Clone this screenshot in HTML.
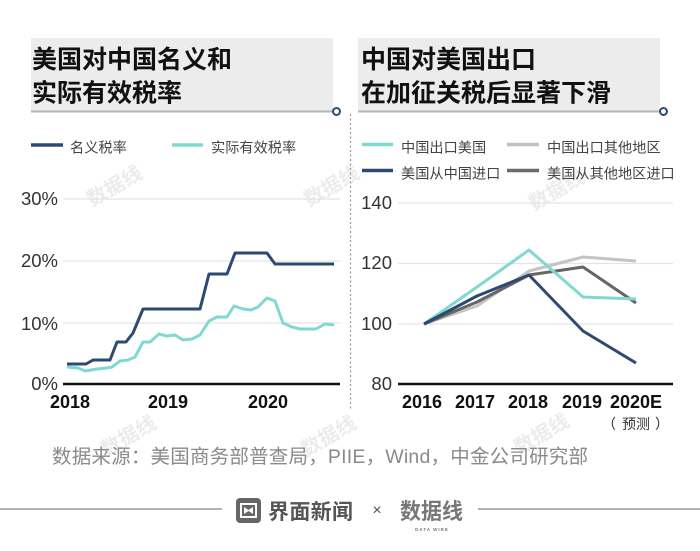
<!DOCTYPE html>
<html><head><meta charset="utf-8"><style>
html,body{margin:0;padding:0;background:#fff;}
svg{display:block;}
.cjk{font-family:"Liberation Sans","Noto Sans CJK SC",sans-serif;}
</style></head><body>
<svg width="700" height="551" viewBox="0 0 700 551" xmlns="http://www.w3.org/2000/svg" class="cjk">
<rect width="700" height="551" fill="#fff"/>
<!-- watermarks -->
<g fill="#ececec" font-family="Liberation Sans, Noto Sans CJK SC, sans-serif" font-size="20" font-weight="bold" text-anchor="middle">
<text transform="translate(118,192) rotate(-30)">数据线</text>
<text transform="translate(335,192) rotate(-30)">数据线</text>
<text transform="translate(560,196) rotate(-30)">数据线</text>
<text transform="translate(132,442) rotate(-30)">数据线</text>
<text transform="translate(332,442) rotate(-30)">数据线</text>
<text transform="translate(545,440) rotate(-30)">数据线</text>
</g>
<!-- title boxes -->
<rect x="31" y="38" width="302" height="73" fill="#ececec"/>
<line x1="31" y1="111.5" x2="333" y2="111.5" stroke="#b3b8bf" stroke-width="2"/>
<circle cx="336.5" cy="111.5" r="3.5" fill="#fff" stroke="#2d4a72" stroke-width="2"/>
<rect x="358" y="38" width="302" height="73" fill="#ececec"/>
<line x1="358" y1="111.5" x2="660" y2="111.5" stroke="#b3b8bf" stroke-width="2"/>
<circle cx="663.5" cy="111.5" r="3.5" fill="#fff" stroke="#2d4a72" stroke-width="2"/>
<g font-size="25" font-weight="bold" fill="#111">
<text x="32" y="68">美国对中国名义和</text>
<text x="32" y="101.5">实际有效税率</text>
<text x="361" y="68">中国对美国出口</text>
<text x="361" y="101.5">在加征关税后显著下滑</text>
</g>
<!-- separator -->
<line x1="350.5" y1="114" x2="350.5" y2="410" stroke="#999" stroke-width="1.2" stroke-dasharray="2,2.5"/>
<!-- legends -->
<g stroke-width="3.5" stroke-linecap="butt">
<line x1="31" y1="145" x2="63" y2="145" stroke="#2d4a72"/>
<line x1="172" y1="145" x2="203" y2="145" stroke="#80d9d1"/>
<line x1="362" y1="144.5" x2="393" y2="144.5" stroke="#80d9d1"/>
<line x1="507" y1="144.5" x2="539" y2="144.5" stroke="#c2c2c2"/>
<line x1="362" y1="170.5" x2="393" y2="170.5" stroke="#2d4a72"/>
<line x1="507" y1="170.5" x2="539" y2="170.5" stroke="#6b6b6b"/>
</g>
<g font-size="14.2" fill="#444">
<text x="70" y="152.5">名义税率</text>
<text x="211" y="152.5">实际有效税率</text>
<text x="401" y="152.5">中国出口美国</text>
<text x="547" y="152.5">中国出口其他地区</text>
<text x="401" y="178.5">美国从中国进口</text>
<text x="547" y="178.5">美国从其他地区进口</text>
</g>
<!-- grid -->
<g stroke="#e4e4e4" stroke-width="1.2">
<line x1="63" y1="199" x2="340" y2="199"/>
<line x1="63" y1="261" x2="340" y2="261"/>
<line x1="63" y1="323" x2="340" y2="323"/>
<line x1="398" y1="203" x2="673" y2="203"/>
<line x1="398" y1="263.5" x2="673" y2="263.5"/>
<line x1="398" y1="324" x2="673" y2="324"/>
</g>
<g font-family="Liberation Sans, sans-serif" font-size="18.5" fill="#333" text-anchor="end">
<text x="58" y="205">30%</text>
<text x="58" y="267">20%</text>
<text x="58" y="330">10%</text>
<text x="58" y="390">0%</text>
<text x="392" y="209">140</text>
<text x="392" y="269">120</text>
<text x="392" y="330">100</text>
<text x="392" y="390">80</text>
</g>
<!-- left series -->
<polyline fill="none" stroke="#80d9d1" stroke-width="3" stroke-linejoin="round" points="67,367 78,368 85,371 97,369 107,368 112,367 120,361 128,360 135,357 143,342 150,342 159,334 167,336 175,335 183,340 192,339 200,335 209,321 217,317 227,317 234,306 243,309 251,310 258,307 267,298 275,301 283,323 292,327 300,329 316,329 325,324 334,325"/>
<polyline fill="none" stroke="#2d4a72" stroke-width="3" stroke-linejoin="round" points="67,364 86,364 93,360 110,360 117,342 126,342 133,333 143,309 200,309 209,274 227,274 235,253 267,253 275,264 334,264"/>
<line x1="63" y1="384" x2="340" y2="384" stroke="#111" stroke-width="2.5"/>
<!-- right series -->
<g fill="none" stroke-width="3" stroke-linejoin="round">
<polyline stroke="#c4c4c4" points="424,324 477,306 529,271 583,257 636,261"/>
<polyline stroke="#666" points="424,324 477,302 529,275 583,267 636,303"/>
<polyline stroke="#80d9d1" points="424,324 477,287 529,250 583,297 636,299"/>
<polyline stroke="#2d4a72" points="424,324 477,296 529,275 583,331 636,363"/>
</g>
<line x1="398" y1="384" x2="673" y2="384" stroke="#111" stroke-width="2.5"/>
<!-- x labels -->
<g font-family="Liberation Sans, sans-serif" font-size="18" font-weight="bold" fill="#111" text-anchor="middle">
<text x="70" y="408">2018</text>
<text x="168" y="408">2019</text>
<text x="268" y="408">2020</text>
<text x="422" y="408">2016</text>
<text x="475" y="408">2017</text>
<text x="528" y="408">2018</text>
<text x="582" y="408">2019</text>
<text x="636" y="408">2020E</text>
</g>
<g font-size="14" fill="#333">
<text x="602" y="429">（</text>
<text x="622" y="429">预测</text>
<text x="655" y="429">）</text>
</g>
<!-- source -->
<text x="52" y="463" font-size="19.5" fill="#8a8a8a" textLength="536" lengthAdjust="spacing">数据来源：美国商务部普查局，PIIE，Wind，中金公司研究部</text>
<!-- footer -->
<line x1="0" y1="509" x2="222" y2="509" stroke="#9a9a9a" stroke-width="1.5"/>
<line x1="478" y1="509" x2="700" y2="509" stroke="#9a9a9a" stroke-width="1.5"/>
<rect x="236" y="498" width="25" height="25" rx="4" fill="#666"/>
<rect x="241" y="504" width="15" height="13" fill="none" stroke="#fff" stroke-width="2"/>
<path d="M244,507 L248.5,510 L253,507 L253,514 L248.5,511 L244,514 Z" fill="#fff"/>
<text x="268" y="519" font-size="21" font-weight="bold" fill="#555" textLength="85" lengthAdjust="spacing">界面新闻</text>
<text x="377" y="515" font-family="Liberation Sans, sans-serif" font-size="16" fill="#555" text-anchor="middle">×</text>
<text x="400" y="519" font-size="22" font-weight="bold" fill="#777" textLength="63" lengthAdjust="spacingAndGlyphs">数据线</text>
<text x="432" y="531" font-family="Liberation Sans, sans-serif" font-size="4.5" font-weight="bold" fill="#777" text-anchor="middle" letter-spacing="1">DATA WIRE</text>
</svg>
</body></html>
